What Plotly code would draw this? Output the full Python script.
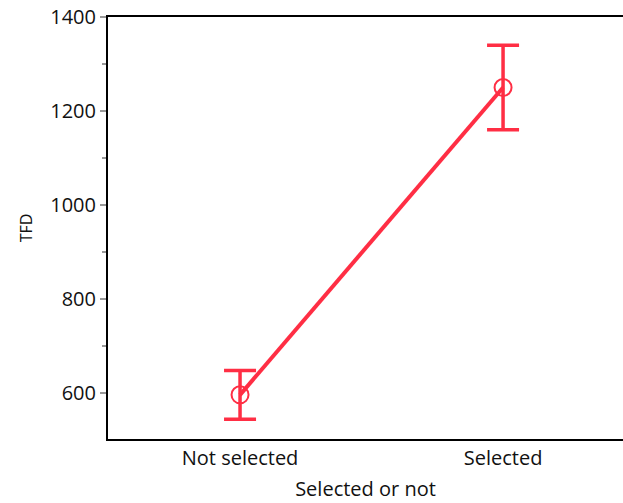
import plotly.graph_objects as go

categories = ["Not selected", "Selected"]
means = [596, 1250]
err = [52, 90]

y_ticks = [600, 800, 1000, 1200, 1400]
red = "#FF2E44"

fig = go.Figure()
fig.add_trace(go.Scatter(
    x=categories, y=means, mode="lines+markers",
    line=dict(color=red, width=4),
    marker=dict(symbol="circle-open", size=17, color=red, line=dict(width=2, color=red)),
    error_y=dict(type="data", array=err, visible=True, color=red, thickness=3.5, width=16),
    showlegend=False,
))

font = "Open Sans, Noto Sans, sans-serif"
fig.update_layout(
    width=623, height=503,
    margin=dict(l=108, r=0, t=17, b=64),
    plot_bgcolor="white", paper_bgcolor="white",
    font=dict(family=font, size=20, color="#111"),
    xaxis=dict(
        type="category", range=[-0.502, 1.456],
        showline=True, linecolor="black", linewidth=2, mirror=True,
        ticks="", showgrid=False, zeroline=False,
        tickfont=dict(size=20),
        title=dict(text="Selected or not", font=dict(size=20), standoff=12),
    ),
    yaxis=dict(
        range=[502, 1400], tickvals=y_ticks,
        showline=True, linecolor="black", linewidth=2,
        ticks="outside", ticklen=6, tickcolor="#999", tickwidth=2,
        minor=dict(tickvals=[700, 900, 1100, 1300], ticks="outside", ticklen=4, tickcolor="#999", tickwidth=2),
        showgrid=False, zeroline=False,
        tickfont=dict(size=20), ticklabeloverflow="allow",
        title=dict(text="TFD", font=dict(size=16), standoff=14),
    ),
)
fig.write_html(
    "out.html",
    config={"displayModeBar": False},
    post_script="document.body.style.margin='0';document.body.style.overflow='hidden';",
)
